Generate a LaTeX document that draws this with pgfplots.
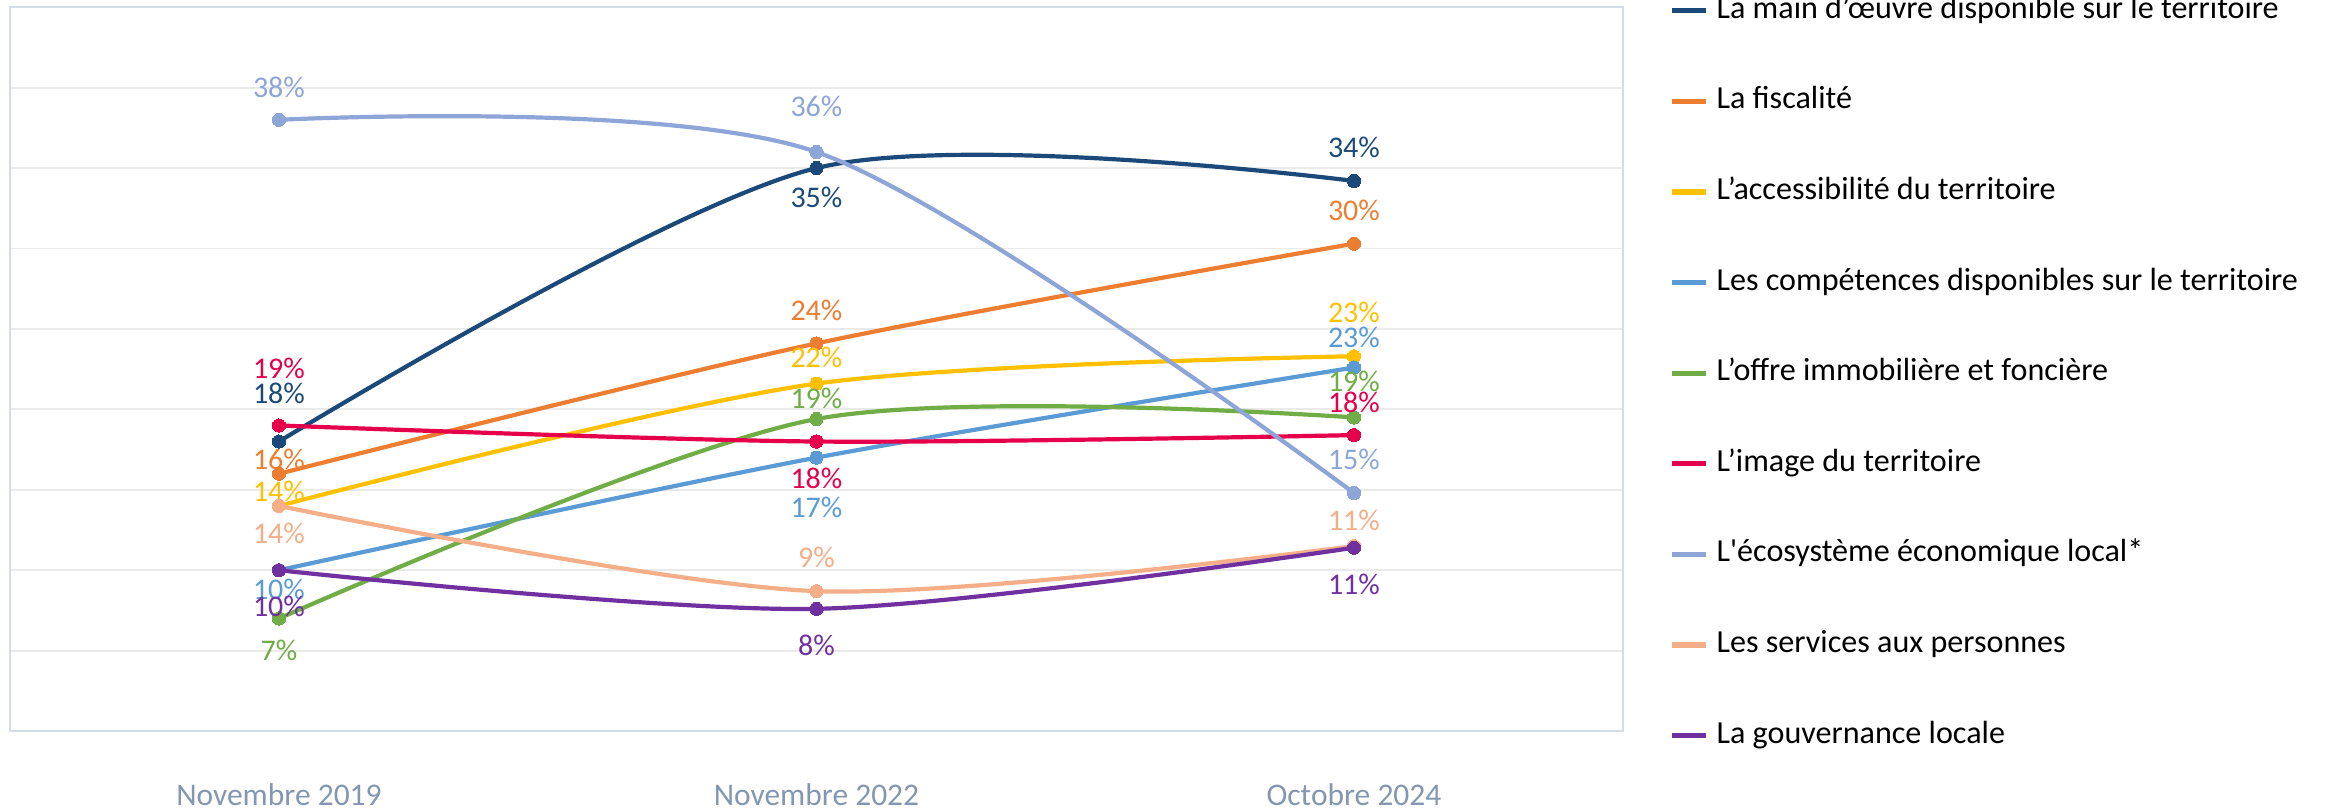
\documentclass[border=0pt]{standalone}
\usepackage{fontspec}
\setmainfont{Carlito}
\usepackage{pgfplots}
\pgfplotsset{compat=1.18}
\definecolor{cMain}{HTML}{1B4A7A}
\definecolor{cFisc}{HTML}{ED7D31}
\definecolor{cAcc}{HTML}{FFC000}
\definecolor{cComp}{HTML}{5B9BD5}
\definecolor{cOffre}{HTML}{70AD47}
\definecolor{cImage}{HTML}{E6004C}
\definecolor{cEco}{HTML}{8EA5D8}
\definecolor{cServ}{HTML}{F4AE88}
\definecolor{cGouv}{HTML}{7030A0}
\definecolor{cGrid}{HTML}{EAEAEA}
\definecolor{cBorder}{HTML}{D6DCE5}
\definecolor{cTick}{HTML}{8497B0}
\pgfplotsset{ser/.style={color=#1, line width=1.4pt, smooth, mark=*, mark size=2.2pt,
  mark options={solid, fill=#1, draw=#1, line width=0pt},
  point meta=explicit symbolic,
  nodes near coords={\pgfplotspointmeta\%},
  visualization depends on=value \thisrow{dy}\as\dy,
  nodes near coords style={anchor=center, inner sep=0pt, yshift=\dy pt, text=#1, font=\fontsize{10}{12}\selectfont},
  legend image code/.code={\draw[line width=1.7pt] (0pt,0pt) -- (11.5pt,0pt);}}}
\begin{document}
\begin{tikzpicture}
\useasboundingbox (0,0) rectangle (775pt,269.67pt);
\begin{axis}[
  at={(3.4pt,25.97pt)}, anchor=south west,
  scale only axis, width=537.5pt, height=241.3pt,
  xmin=-0.5, xmax=2.5, ymin=0, ymax=45,
  xtick={0,1,2}, xticklabels={Novembre 2019,Novembre 2022,Octobre 2024},
  ytick={5,10,...,40}, yticklabels={},
  major tick length=0pt,
  ymajorgrids, grid style={draw=cGrid, line width=0.6pt},
  axis line style={draw=cBorder, line width=0.8pt},
  xticklabel style={anchor=base, inner sep=0pt, yshift=-24.8pt, text=cTick, font=\fontsize{10.5}{12}\selectfont},
  legend style={at={(1,1)}, anchor=north west, xshift=15.5pt, yshift=3.8pt, draw=none, fill=none,
    inner sep=0pt, outer sep=0pt, row sep=20.2pt, column sep=2.6pt,
    font=\fontsize{10.7}{13}\selectfont,
    nodes={inner sep=0pt, text height=7.5pt, text depth=2.5pt}},
  legend cell align=left,
]
\addplot[ser=cMain] table[x=x,y=y,meta=lab]{
x y lab dy
0 18.0 18 16.0
1 35.0 35 -9.9
2 34.2 34 11.1
};
\addlegendentry{La main d’œuvre disponible sur le territoire}
\addplot[ser=cFisc] table[x=x,y=y,meta=lab]{
x y lab dy
0 16.0 16 4.8
1 24.1 24 10.9
2 30.3 30 11.2
};
\addlegendentry{La fiscalité}
\addplot[ser=cAcc] table[x=x,y=y,meta=lab]{
x y lab dy
0 14.0 14 4.9
1 21.6 22 8.7
2 23.3 23 14.5
};
\addlegendentry{L’accessibilité du territoire}
\addplot[ser=cComp] table[x=x,y=y,meta=lab]{
x y lab dy
0 10.0 10 -6.5
1 17.0 17 -16.7
2 22.6 23 10.0
};
\addlegendentry{Les compétences disponibles sur le territoire}
\addplot[ser=cOffre] table[x=x,y=y,meta=lab]{
x y lab dy
0 7.0 7 -10.5
1 19.4 19 6.8
2 19.5 19 11.9
};
\addlegendentry{L’offre immobilière et foncière}
\addplot[ser=cImage] table[x=x,y=y,meta=lab]{
x y lab dy
0 19.0 19 19.0
1 18.0 18 -12.2
2 18.4 18 10.9
};
\addlegendentry{L’image du territoire}
\addplot[ser=cEco] table[x=x,y=y,meta=lab]{
x y lab dy
0 38.0 38 10.7
1 36.0 36 15.3
2 14.8 15 11.1
};
\addlegendentry{L\textquotesingle écosystème économique local*}
\addplot[ser=cServ] table[x=x,y=y,meta=lab]{
x y lab dy
0 14.0 14 -9.2
1 8.7 9 11.2
2 11.5 11 8.5
};
\addlegendentry{Les services aux personnes}
\addplot[ser=cGouv] table[x=x,y=y,meta=lab]{
x y lab dy
0 10.0 10 -12.1
1 7.6 8 -12.2
2 11.4 11 -12.2
};
\addlegendentry{La gouvernance locale}
\end{axis}
\end{tikzpicture}
\end{document}
